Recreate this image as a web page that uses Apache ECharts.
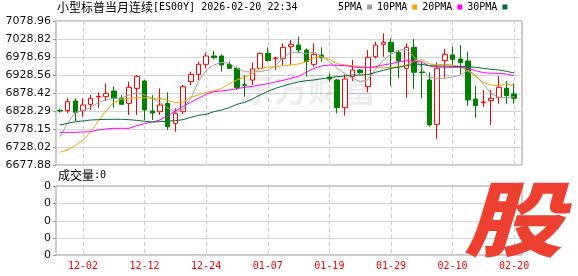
<!DOCTYPE html>
<html><head><meta charset="utf-8">
<script src="https://cdn.jsdelivr.net/npm/echarts@6/dist/echarts.min.js"></script>
<style>html,body{margin:0;padding:0;background:#fff}#c{width:578px;height:276px}</style>
</head><body><div id="c"></div>
<script>
// ---- data ----
const dates = ['11-26','11-28','12-01','12-02','12-03','12-04','12-05','12-08','12-09','12-10',
'12-11','12-12','12-15','12-16','12-17','12-18','12-19','12-22','12-23','12-24',
'12-26','12-29','12-30','12-31','01-02','01-05','01-06','01-07','01-08','01-09',
'01-12','01-13','01-14','01-15','01-16','01-19','01-20','01-21','01-22','01-23',
'01-26','01-27','01-28','01-29','01-30','02-02','02-03','02-04','02-05','02-06',
'02-09','02-10','02-11','02-12','02-13','02-16','02-17','02-18','02-19','02-20'];
// [open, close, low, high]
const ohlc = [
[6830.1,6828.3,6823.6,6834.8],[6829.2,6854.3,6821.8,6863.6],[6856.1,6824.6,6800.4,6863.6],[6829.2,6845.0,6812.5,6863.6],
[6846.8,6863.6,6831.1,6872.9],[6867.3,6869.1,6837.6,6880.3],[6868.2,6877.5,6856.1,6905.3],[6884.0,6863.6,6837.6,6896.1],
[6863.6,6846.8,6845.0,6872.9],[6849.6,6894.2,6817.1,6910.0],[6891.4,6924.8,6817.1,6928.5],[6911.8,6831.1,6803.2,6914.6],
[6828.3,6822.7,6803.2,6872.9],[6826.4,6845.0,6817.1,6891.4],[6849.6,6784.6,6775.4,6880.3],[6793.9,6821.8,6770.7,6835.7],
[6826.4,6896.1,6819.9,6900.7],[6910.0,6930.4,6900.7,6937.8],[6930.4,6958.3,6914.6,6965.7],[6958.3,6981.5,6947.1,6990.8],
[6981.5,6976.8,6972.2,6995.4],[6981.5,6956.4,6937.8,6986.1],[6958.3,6947.1,6945.3,6965.7],[6947.1,6893.3,6886.8,6951.8],
[6901.6,6899.8,6868.2,6928.5],[6914.6,6945.3,6900.7,6962.9],[6947.1,6988.9,6945.3,6991.7],[6988.9,6968.5,6965.7,7005.6],
[6974.0,6975.9,6942.5,6979.6],[6975.0,7005.6,6956.4,7016.8],[7007.5,7014.0,6956.4,7026.0],[7012.1,6998.2,6988.9,7035.3],
[6998.2,6965.7,6923.9,7002.8],[6958.3,6986.1,6951.8,7016.8],[6984.3,6976.8,6965.7,7005.6],[6922.9,6917.4,6910.0,6933.2],
[6914.6,6837.6,6821.8,6917.4],[6837.6,6917.4,6815.3,6930.4],[6923.9,6942.5,6911.8,6970.3],[6942.5,6935.0,6932.3,6945.3],
[6896.1,6977.8,6880.3,6998.2],[6979.6,7012.1,6975.0,7021.4],[7014.0,7019.5,6979.6,7044.6],[7019.5,6993.5,6898.9,7030.7],
[6991.7,6967.5,6919.3,6998.2],[6947.1,7005.6,6865.4,7016.8],[7005.6,6936.0,6889.6,7028.8],[6936.9,6935.0,6863.6,6965.7],
[6914.6,6789.3,6784.6,6936.0],[6791.1,6947.1,6750.3,6963.8],[6968.5,6986.1,6921.1,7001.0],[6984.3,6972.2,6956.4,7007.5],
[6973.1,6962.9,6930.4,7012.1],[6967.5,6858.9,6843.1,6993.5],[6861.7,6843.1,6809.7,6898.9],[6851.5,6853.4,6839.4,6886.8],
[6857.1,6863.6,6789.3,6886.8],[6865.4,6894.2,6848.7,6925.8],[6891.4,6871.0,6848.7,6911.8],[6875.6,6863.6,6848.7,6905.3]];
const ma5 = [6756.8,6793.9,6824.6,6829.2,6837.6,6852.4,6858.9,6863.6,6864.5,6872.9,
6879.4,6872.9,6863.6,6852.4,6835.7,6826.4,6832.9,6863.6,6910.0,6942.5,
6956.4,6963.8,6961.1,6947.1,6937.8,6936.9,6937.8,6942.5,6954.6,6976.8,
6991.7,6991.7,6988.0,6991.7,6980.5,6965.7,6947.1,6933.2,6919.3,6910.0,
6915.0,6945.0,6970.0,6986.1,6997.3,7000.0,6979.6,6947.1,6922.1,6919.3,
6919.3,6923.0,6928.6,6941.6,6928.6,6902.6,6876.6,6866.4,6865.4,6868.2];
const ma10 = [6713.2,6719.7,6731.7,6747.5,6770.7,6800.4,6828.3,6852.4,6860.8,6863.6,
6865.4,6865.4,6863.6,6863.6,6858.0,6852.4,6852.4,6866.4,6872.9,6880.3,
6884.0,6891.4,6904.4,6914.6,6923.0,6931.3,6947.1,6950.8,6951.8,6954.6,
6956.4,6959.2,6965.7,6976.8,6979.6,6972.2,6960.1,6956.4,6954.6,6951.8,
6949.9,6949.0,6949.0,6949.9,6951.8,6956.4,6967.6,6971.3,6959.2,6957.3,
6958.3,6956.4,6950.8,6939.7,6923.9,6908.1,6900.7,6898.8,6904.4,6897.0];
const ma20 = [6768.9,6768.9,6768.9,6769.8,6770.7,6775.4,6778.2,6780.0,6780.0,6780.0,
6787.4,6793.0,6797.6,6803.2,6815.3,6828.3,6841.3,6852.4,6863.6,6874.7,
6882.1,6884.0,6886.8,6890.5,6894.2,6897.0,6900.7,6904.4,6909.1,6913.7,
6919.3,6924.8,6936.0,6947.1,6953.6,6956.4,6955.5,6954.6,6951.8,6949.0,
6949.0,6951.8,6956.4,6960.1,6964.8,6968.5,6966.6,6964.8,6953.6,6950.8,
6949.9,6949.9,6949.9,6947.1,6940.6,6935.1,6933.2,6933.2,6931.3,6926.7];
const ma30 = [6789.3,6793.9,6798.6,6800.4,6803.2,6804.1,6805.1,6805.1,6805.1,6804.1,
6802.3,6799.5,6797.6,6798.6,6800.4,6801.4,6804.1,6810.6,6816.2,6819.0,
6826.4,6831.1,6837.6,6846.9,6852.4,6861.7,6872.9,6883.1,6891.4,6897.9,
6904.4,6909.1,6912.8,6914.6,6918.3,6921.1,6923.9,6925.8,6928.6,6928.6,
6929.5,6936.0,6941.6,6947.1,6949.9,6954.6,6958.3,6958.3,6954.6,6953.6,
6953.6,6952.7,6952.7,6951.8,6949.9,6947.1,6944.3,6942.5,6938.8,6934.1];
const volume = new Array(60).fill(0);
const yTickLabels = ['6677.88','6728.02','6778.15','6828.29','6878.42','6928.56','6978.69','7028.82','7078.96'];
const volTickLabels = ['0','0','0','0','0'];
const seriesNames = ['5PMA','10PMA','20PMA','30PMA'];
const titleName = '小型标普当月连续';
const titleCode = '[ES00Y] 2026-02-20 22:34';

// ---- layout / style ----
const Y_MIN = 6677.88, Y_MAX = 7078.96, Y_INT = (Y_MAX - Y_MIN) / 8;
const dataLeft = 59.85, dataWidth = 454.3;
const frameLeft = 56, frameWidth = 466;
const mainTop = 21, mainH = 144, volTop = 186, volH = 69;
const lblFont = 'DejaVu Sans';
const mono = 'DejaVu Sans Mono';
const cjk = 'Noto Sans CJK SC';
const showIdx = (i) => (i - 3) % 8 === 0;
const maColors = ['#a0a0a0', '#f5a300', '#ff00ff', '#007033'];
const gridLineColor = '#d4d4d4';

const chart = echarts.init(document.getElementById('c'), null, {renderer: 'canvas'});
const catAxis = (gi, labels) => ({
  type: 'category', gridIndex: gi, data: dates, boundaryGap: false,
  axisLine: {show: false}, axisTick: {show: false},
  axisLabel: labels ? {show: true, interval: showIdx, color: '#ff0000', fontFamily: mono, fontSize: 10, margin: 6} : {show: false},
  splitLine: {show: true, interval: showIdx, lineStyle: {color: '#cfcfcf', type: [4, 3], width: 1}}
});
const frameX = (gi) => ({type: 'value', gridIndex: gi, show: false, min: 0, max: 1});
const valueY = (gi, min, max, interval, labels) => ({
  type: 'value', gridIndex: gi, min, max, interval, position: 'left',
  axisLine: {show: false},
  axisTick: {show: true, length: 3, lineStyle: {color: '#999'}},
  axisLabel: {show: true, margin: 5, color: '#111', fontFamily: lblFont, fontSize: 11,
    formatter: (v, i) => labels[i] !== undefined ? labels[i] : ''},
  splitLine: {show: true, lineStyle: {color: gridLineColor, width: 1}}
});

// volume panel scale furniture (tick labels, ticks, inner grid lines) from the panel layout
const volDivs = volTickLabels.length - 1;
const volGraphics = [];
volTickLabels.forEach((lab, k) => {
  const y = Math.round(volTop + volH - k * volH / volDivs);
  volGraphics.push({type: 'text', x: frameLeft - 5, y: y, z: 5, silent: true,
    style: {text: lab, textAlign: 'right', textVerticalAlign: 'middle', align: 'right', verticalAlign: 'middle',
      font: '11px "DejaVu Sans"', fill: '#111'}});
  volGraphics.push({type: 'line', z: 0, silent: true,
    shape: {x1: frameLeft - 3, y1: y + 0.5, x2: frameLeft, y2: y + 0.5}, style: {stroke: '#999', lineWidth: 1}});
  if (k > 0 && k < volDivs) {
    volGraphics.push({type: 'line', z: 0, silent: true,
      shape: {x1: frameLeft, y1: y + 0.5, x2: frameLeft + frameWidth, y2: y + 0.5}, style: {stroke: gridLineColor, lineWidth: 1}});
  }
});

// grids: 0 main frame, 1 volume frame, 2 main data, 3 volume data
chart.setOption({
  animation: false,
  backgroundColor: '#fff',
  grid: [
    {left: frameLeft, top: mainTop, width: frameWidth, height: mainH, show: true, borderColor: '#999', borderWidth: 1, backgroundColor: 'transparent'},
    {left: frameLeft, top: volTop, width: frameWidth, height: volH, show: true, borderColor: '#999', borderWidth: 1, backgroundColor: 'transparent'},
    {left: dataLeft, top: mainTop, width: dataWidth, height: mainH},
    {left: dataLeft, top: volTop, width: dataWidth, height: volH}
  ],
  xAxis: [frameX(0), frameX(1), catAxis(2, false), catAxis(3, true)],
  yAxis: [
    valueY(0, Y_MIN, Y_MAX, Y_INT, yTickLabels),
    {type: 'value', gridIndex: 1, min: 0, max: 4, show: false, splitLine: {show: false}},
    {type: 'value', gridIndex: 2, min: Y_MIN, max: Y_MAX, show: false, splitLine: {show: false}},
    {type: 'value', gridIndex: 3, min: 0, max: 4, show: false, splitLine: {show: false}}
  ],
  legend: {
    left: 338, top: 2, padding: 0, align: 'right', icon: 'rect', itemWidth: 5, itemHeight: 5, itemGap: 5,
    textStyle: {fontFamily: mono, fontSize: 10, color: '#000'},
    data: seriesNames
  },
  series: [
    {type: 'candlestick', xAxisIndex: 2, yAxisIndex: 2, data: ohlc, barWidth: 5, clip: false, z: 2,
      itemStyle: {color: '#ffffff', borderColor: '#ff0000', color0: '#008000', borderColor0: '#008000', borderWidth: 1}},
    {name: seriesNames[0], type: 'line', xAxisIndex: 2, yAxisIndex: 2, data: ma5, symbol: 'none', z: 3, color: maColors[0], lineStyle: {width: 1, color: maColors[0]}},
    {name: seriesNames[1], type: 'line', xAxisIndex: 2, yAxisIndex: 2, data: ma10, symbol: 'none', z: 3, color: maColors[1], lineStyle: {width: 1, color: maColors[1]}},
    {name: seriesNames[2], type: 'line', xAxisIndex: 2, yAxisIndex: 2, data: ma20, symbol: 'none', z: 3, color: maColors[2], lineStyle: {width: 1, color: maColors[2]}},
    {name: seriesNames[3], type: 'line', xAxisIndex: 2, yAxisIndex: 2, data: ma30, symbol: 'none', z: 3, color: maColors[3], lineStyle: {width: 1, color: maColors[3]}},
    {type: 'bar', xAxisIndex: 3, yAxisIndex: 3, data: volume, barWidth: 5, itemStyle: {color: '#008000'}}
  ],
  graphic: volGraphics.concat([
    {type: 'text', left: 57, top: 1, z: 10, style: {
      text: '{a|' + titleName + '}{b|' + titleCode + '}',
      rich: {a: {fontFamily: cjk, fontSize: 12, color: '#000'}, b: {fontFamily: mono, fontSize: 10, color: '#000'}}}},
    {type: 'text', left: 58, top: 169, z: 10, style: {
      text: '{a|成交量}{b|:0}',
      rich: {a: {fontFamily: cjk, fontSize: 12, color: '#000'}, b: {fontFamily: mono, fontSize: 10, color: '#000'}}}},
    {type: 'text', left: 240, top: 72, z: 1, silent: true, style: {
      text: '东方财富', font: 'bold 34px "Noto Sans CJK SC"', fill: 'rgba(0,0,0,0.07)'}},
    {type: 'text', left: 464, top: 178, z: 100, scaleX: 1.2, silent: true, style: {
      text: '股', font: 'italic 900 82px "Noto Sans CJK SC"', fill: '#ee4030'}}
  ])
});
</script></body></html>
